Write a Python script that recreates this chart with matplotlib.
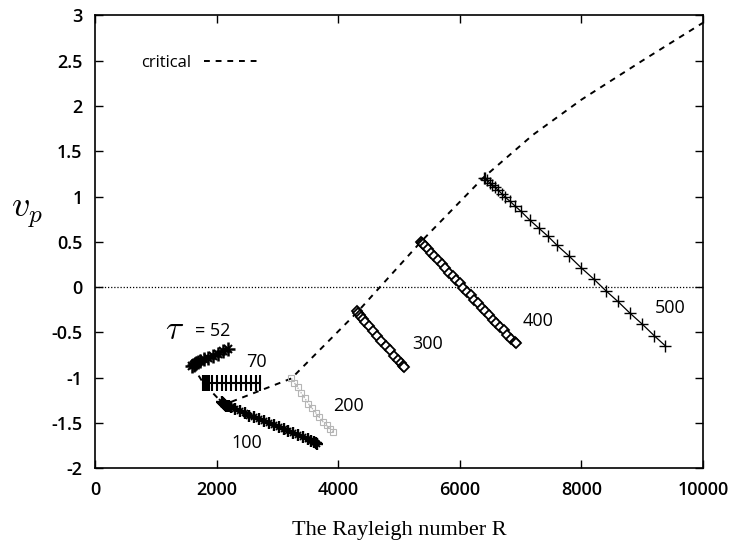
import matplotlib
matplotlib.use("Agg")
import matplotlib.pyplot as plt

plt.rcParams["mathtext.fontset"] = "cm"

# critical curve (dashed)
crit_R = [1600, 1780, 2120, 3230, 4310, 5360, 6390, 7200, 8000, 9000, 10000]
crit_v = [-0.87, -1.06, -1.30, -1.01, -0.28, 0.50, 1.21, 1.68, 2.07, 2.50, 2.92]

# tau = 52
t52_R = [1600, 1620, 1640, 1660, 1690, 1730, 1790, 1860, 1940, 2020, 2100, 2180]
t52_v = [-0.87, -0.86, -0.85, -0.84, -0.83, -0.82, -0.80, -0.78, -0.76, -0.74, -0.71, -0.69]

# tau = 70
t70_R = [1780, 1790, 1800, 1810, 1820, 1840, 1870, 1920, 2000, 2080, 2160, 2240,
         2320, 2400, 2480, 2560, 2640, 2720]
t70_v = [-1.06, -1.06, -1.06, -1.06, -1.06, -1.06, -1.06, -1.06, -1.06, -1.06, -1.06,
         -1.06, -1.06, -1.06, -1.06, -1.06, -1.06, -1.06]

# tau = 100
t100_R = [2080, 2100, 2120, 2140, 2160, 2180, 2200, 2240, 2300, 2380, 2460, 2540, 2620,
          2700, 2780, 2860, 2940, 3020, 3100, 3180, 3260, 3340, 3420, 3500, 3560, 3600,
          3630, 3650]
t100_v = [-1.27, -1.28, -1.29, -1.30, -1.31, -1.31, -1.32, -1.33, -1.35, -1.37, -1.39,
          -1.42, -1.44, -1.46, -1.48, -1.50, -1.52, -1.55, -1.57, -1.59, -1.61, -1.63,
          -1.66, -1.68, -1.70, -1.71, -1.72, -1.73]

# tau = 200 (grey)
t200_R = [3230, 3280, 3330, 3390, 3450, 3510, 3570, 3630, 3690, 3750, 3810, 3870, 3920]
t200_v = [-1.01, -1.06, -1.11, -1.17, -1.23, -1.29, -1.34, -1.39, -1.44, -1.49, -1.53,
          -1.57, -1.60]

# tau = 300
t300_R = [4310, 4330, 4350, 4370, 4400, 4440, 4500, 4570, 4640, 4710, 4780, 4850, 4920,
          4980, 5030, 5060, 5080]
t300_v = [-0.27, -0.29, -0.31, -0.33, -0.35, -0.39, -0.43, -0.49, -0.54, -0.60, -0.65,
          -0.70, -0.76, -0.81, -0.84, -0.87, -0.88]

# tau = 400
t400_R = [5360, 5380, 5400, 5430, 5470, 5520, 5580, 5640, 5700, 5760, 5820, 5880, 5940,
          6000, 6060, 6120, 6180, 6240, 6300, 6360, 6420, 6480, 6540, 6600, 6660, 6720,
          6780, 6840, 6900, 6920]
t400_v = [0.50, 0.49, 0.47, 0.45, 0.42, 0.38, 0.34, 0.30, 0.25, 0.21, 0.16, 0.12, 0.08,
          0.04, -0.01, -0.05, -0.09, -0.14, -0.18, -0.23, -0.27, -0.31, -0.36, -0.40,
          -0.44, -0.48, -0.53, -0.57, -0.61, -0.62]

# tau = 500
t500_R = [6390, 6420, 6450, 6490, 6530, 6580, 6630, 6690, 6750, 6820, 6900, 7000, 7150,
          7300, 7450, 7600, 7800, 8000, 8200, 8400, 8600, 8800, 9000, 9200, 9380]
t500_v = [1.21, 1.20, 1.18, 1.15, 1.13, 1.10, 1.07, 1.03, 0.99, 0.95, 0.90, 0.84, 0.74,
          0.65, 0.56, 0.46, 0.34, 0.21, 0.09, -0.04, -0.16, -0.29, -0.41, -0.54, -0.65]

# curve labels (left edge, centre height)
lab_text = ["70", "100", "200", "300", "400", "500"]
lab_R = [2480, 2250, 3910, 5210, 7040, 9210]
lab_v = [-0.83, -1.72, -1.31, -0.63, -0.38, -0.23]

fig = plt.figure(figsize=(7.34, 5.4), dpi=100)
ax = fig.add_axes([0.1295, 0.1333, 0.8283, 0.838])

tickfont = "Open Sans"
tickweight = "semibold"

ax.axhline(0, color="black", linestyle=(0, (1, 1.5)), linewidth=0.9)
ax.plot(crit_R, crit_v, color="black", linestyle=(0, (3, 3)), linewidth=1.4,
        label="critical")

ax.plot(t52_R, t52_v, color="black", linewidth=1.5, marker="+", markersize=10,
        markeredgewidth=1.8)
ax.plot(t52_R, t52_v, color="black", linewidth=0, marker="x", markersize=6,
        markeredgewidth=1.5)
ax.plot(t70_R, t70_v, color="black", linewidth=1.5, marker="|", markersize=12,
        markeredgewidth=1.5)
ax.plot(t100_R, t100_v, color="black", linewidth=1.5, marker="+", markersize=9,
        markeredgewidth=1.7)
ax.plot(t100_R, t100_v, color="black", linewidth=0, marker="x", markersize=5,
        markeredgewidth=1.3)
ax.plot(t200_R, t200_v, color="#b5b5b5", linewidth=1.0, linestyle=(0, (1, 1)),
        marker="s", markersize=4, markerfacecolor="none", markeredgewidth=0.8)
ax.plot(t300_R, t300_v, color="black", linewidth=1.3, marker="D", markersize=5,
        markerfacecolor="white", markeredgewidth=1.3)
ax.plot(t400_R, t400_v, color="black", linewidth=1.3, marker="D", markersize=5,
        markerfacecolor="white", markeredgewidth=1.3)
ax.plot(t500_R, t500_v, color="black", linewidth=0.9, marker="+", markersize=9,
        markeredgewidth=1.0)

for t, r, v in zip(lab_text, lab_R, lab_v):
    ax.text(r, v, t, fontsize=13, family=tickfont, ha="left", va="center")
ax.text(1150, -0.47, r"$\tau$", fontsize=24, ha="left", va="center")
ax.text(1650, -0.49, "= 52", fontsize=13, family=tickfont, ha="left", va="center")

ax.set_xlim(0, 10000)
ax.set_ylim(-2, 3)
ax.set_xticks([0, 2000, 4000, 6000, 8000, 10000])
ax.set_yticks([-2, -1.5, -1, -0.5, 0, 0.5, 1, 1.5, 2, 2.5, 3])
ax.set_yticklabels(["-2", "-1.5", "-1", "-0.5", "0", "0.5", "1", "1.5", "2", "2.5", "3"])
ax.tick_params(direction="in", length=6, width=1, top=True, right=True,
               labelsize=13, pad=9)
for lbl in ax.get_xticklabels() + ax.get_yticklabels():
    lbl.set_family(tickfont)
    lbl.set_weight(tickweight)
for s in ax.spines.values():
    s.set_linewidth(1.2)

ax.set_xlabel("The Rayleigh number R", fontsize=16, family="Liberation Serif",
              labelpad=16)
ax.set_ylabel(r"$v_p$", fontsize=26, rotation=0)
ax.yaxis.set_label_coords(-0.112, 0.525)

leg = ax.legend(loc="center left", bbox_to_anchor=(0.075, 0.896), frameon=False,
                markerfirst=False, handlelength=3.4, borderaxespad=0, borderpad=0,
                prop={"family": tickfont, "size": 12})

fig.savefig("out.png", dpi=100)
